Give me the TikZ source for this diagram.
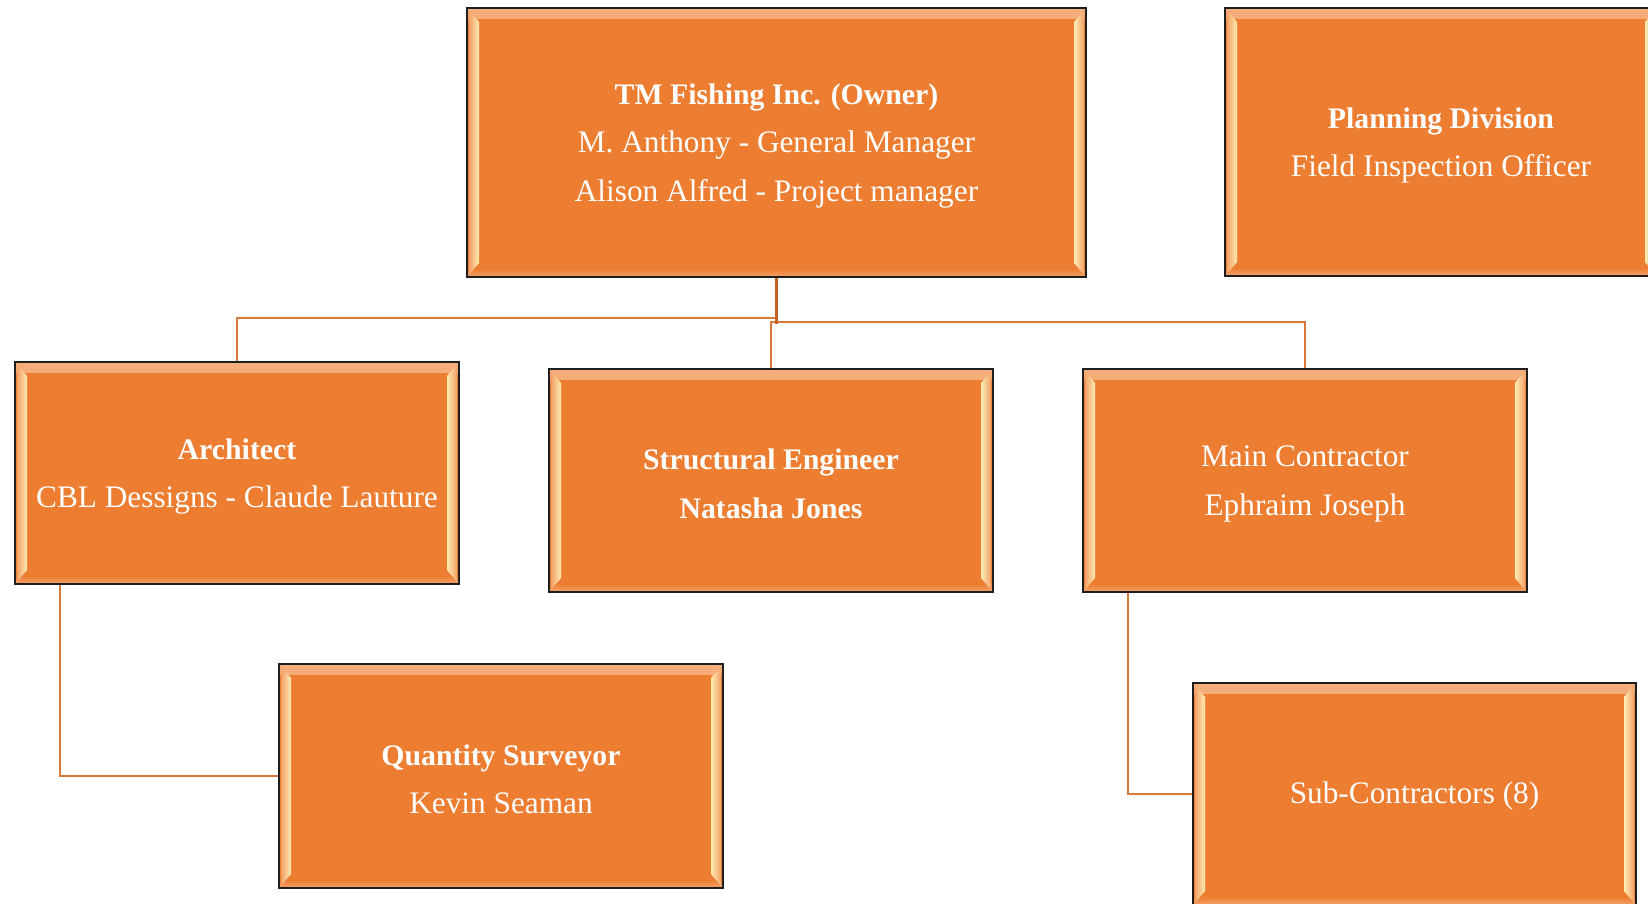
\documentclass[tikz,border=0pt]{standalone}
\usepackage{fontspec}
\setmainfont{Liberation Serif}
\newcommand{\hd}[1]{{\fontsize{29.8}{48.5}\selectfont\bfseries #1}}
\begin{document}
\begin{tikzpicture}[x=1pt,y=1pt]
\definecolor{boxfill}{HTML}{EC7D31}
\definecolor{boxedge}{HTML}{1E1E1E}
\definecolor{bevtop}{HTML}{F4AE7C}
\definecolor{bevbot}{HTML}{F2A46E}
\definecolor{bevglow}{HTML}{FFEDB4}
\definecolor{bevside}{HTML}{F2A066}
\definecolor{trunkline}{HTML}{C2621F}
\definecolor{branchline}{HTML}{D7793A}
\tikzset{
  orgbox/.style={draw=boxedge, line width=1.6pt, fill=boxfill, inner sep=0pt,
    path picture={
      \shade[top color=bevtop, bottom color=boxfill]
        (path picture bounding box.north west) rectangle
        ([yshift=-10pt]path picture bounding box.north east);
      \shade[bottom color=bevbot, top color=boxfill]
        (path picture bounding box.south west) rectangle
        ([yshift=8pt]path picture bounding box.south east);
      \shade[left color=bevside, right color=bevglow]
        ([xshift=2pt,yshift=-2pt]path picture bounding box.north west) --
        ([xshift=12pt,yshift=-14pt]path picture bounding box.north west) --
        ([xshift=12pt,yshift=14pt]path picture bounding box.south west) --
        ([xshift=2pt,yshift=2pt]path picture bounding box.south west) -- cycle;
      \shade[right color=bevside, left color=bevglow]
        ([xshift=-2pt,yshift=-2pt]path picture bounding box.north east) --
        ([xshift=-12pt,yshift=-14pt]path picture bounding box.north east) --
        ([xshift=-12pt,yshift=14pt]path picture bounding box.south east) --
        ([xshift=-2pt,yshift=2pt]path picture bounding box.south east) -- cycle;
    }},
  boxtext/.style={text=white, align=center, inner sep=0pt,
    font=\fontsize{31.3}{48.5}\selectfont},
  trunk/.style={draw=trunkline, line width=3pt},
  branch/.style={draw=branchline, line width=2.4pt}
}
\useasboundingbox (0,0) rectangle (1648,-903);
\clip (0,0) rectangle (1648,-903);

% boxes of the chart
\node[orgbox, minimum width=619pt, minimum height=269pt] (owner) at (776.5,-142.5) {};
\node[orgbox, minimum width=432pt, minimum height=268pt] (plan) at (1441,-142) {};
\node[orgbox, minimum width=444pt, minimum height=222pt] (arch) at (237,-473) {};
\node[orgbox, minimum width=444pt, minimum height=223pt] (struct) at (771,-480.5) {};
\node[orgbox, minimum width=444pt, minimum height=223pt] (main) at (1305,-480.5) {};
\node[orgbox, minimum width=444pt, minimum height=224pt] (qs) at (501,-776) {};
\node[orgbox, minimum width=443pt, minimum height=222pt] (sub) at (1414.5,-794) {};

% their texts
\node[boxtext] (ownertext) at ([yshift=-3.5pt]owner.center)
  {\hd{TM Fishing Inc. (Owner)}\\M. Anthony - General Manager\\Alison Alfred - Project manager};
\node[boxtext] (plantext) at ([yshift=-3.5pt]plan.center)
  {\hd{Planning Division}\\Field Inspection Officer};
\node[boxtext] (archtext) at ([yshift=-3.5pt]arch.center)
  {\hd{Architect}\\CBL Dessigns - Claude Lauture};
\node[boxtext] (structtext) at ([yshift=-3.5pt]struct.center)
  {\hd{Structural Engineer}\\\hd{Natasha Jones}};
\node[boxtext] (maintext) at ([yshift=-3.5pt]main.center)
  {Main Contractor\\Ephraim Joseph};
\node[boxtext] (qstext) at ([yshift=-3.5pt]qs.center)
  {\hd{Quantity Surveyor}\\Kevin Seaman};
\node[boxtext] (subtext) at ([yshift=-2pt]sub.center)
  {Sub-Contractors (8)};

% connectors
\draw[branch] (owner.south) -- ++(0,-40) -| (arch.north);
\draw[branch] (struct.north) -- ++(0,46) -| (main.north);
\draw[trunk] (owner.south) -- ++(0,-46);
\draw[branch] ([xshift=-177pt]arch.south) |- (qs.west);
\draw[branch] ([xshift=-177pt]main.south) |- (sub.west);
\end{tikzpicture}
\end{document}
